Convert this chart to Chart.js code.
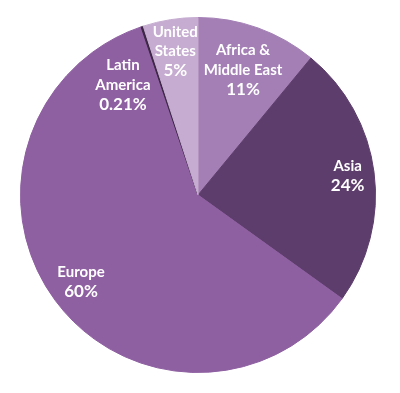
<!DOCTYPE html>
<html>
<head>
<meta charset="utf-8">
<script src="https://cdn.jsdelivr.net/npm/chart.js@4"></script>
<style>
  html, body { margin: 0; padding: 0; background: #fff; }
  #wrap { width: 400px; height: 393px; }
</style>
</head>
<body>
<div id="wrap"><canvas id="chart"></canvas></div>
<script>
// data, clockwise from 12 o'clock
const regions = ["Africa & Middle East", "Asia", "Europe", "Latin America", "United States"];
const shares = [11, 24, 60, 0.21, 5];
const shareText = ["11%", "24%", "60%", "0.21%", "5%"];
const labelLines = [["Africa &", "Middle East"], ["Asia"], ["Europe"], ["Latin", "America"], ["United", "States"]];

const colors = ["#a37fb5", "#5d3d6b", "#8e5fa1", "#3b2744", "#c5acd0"];
// where each label sits: fraction of radius, angle shift in degrees
const labelPlace = [
    { r: 0.75, shift: 0 },
    { r: 0.85, shift: 0 },
    { r: 0.82, shift: 0 },
    { r: 0.75, shift: -16 },
    { r: 0.82, shift: 0 }
];

const sliceLabels = {
    id: "sliceLabels",
    afterDatasetsDraw(c) {
        const ctx = c.ctx;
        const arcs = c.getDatasetMeta(0).data;
        ctx.save();
        ctx.fillStyle = "#ffffff";
        ctx.font = "bold 15px Lato, 'Open Sans', sans-serif";
        ctx.textAlign = "center";
        ctx.textBaseline = "middle";
        arcs.forEach((arc, i) => {
            const mid = (arc.startAngle + arc.endAngle) / 2 + labelPlace[i].shift * Math.PI / 180;
            const rr = arc.outerRadius * labelPlace[i].r;
            const x = arc.x + Math.cos(mid) * rr;
            const y = arc.y + Math.sin(mid) * rr;
            const lines = labelLines[i].concat([shareText[i]]);
            const lh = 19.5;
            const top = y - (lines.length - 1) * lh / 2;
            lines.forEach((t, k) => {
                ctx.font = (k === lines.length - 1 ? "bold 17px " : "bold 15px ") + "Lato, 'Open Sans', sans-serif";
                ctx.fillText(t, x, top + k * lh);
            });
        });
        ctx.restore();
    }
};

new Chart(document.getElementById("chart"), {
    type: "pie",
    data: {
        labels: regions,
        datasets: [
            {
                data: shares,
                backgroundColor: colors,
                borderColor: colors,
                borderWidth: 1
            }
        ]
    },
    options: {
        responsive: true,
        maintainAspectRatio: false,
        animation: false,
        layout: { padding: { top: 17, bottom: 20, left: 20, right: 24 } },
        plugins: {
            legend: { display: false },
            tooltip: { enabled: false }
        }
    },
    plugins: [sliceLabels]
});
</script>
</body>
</html>
